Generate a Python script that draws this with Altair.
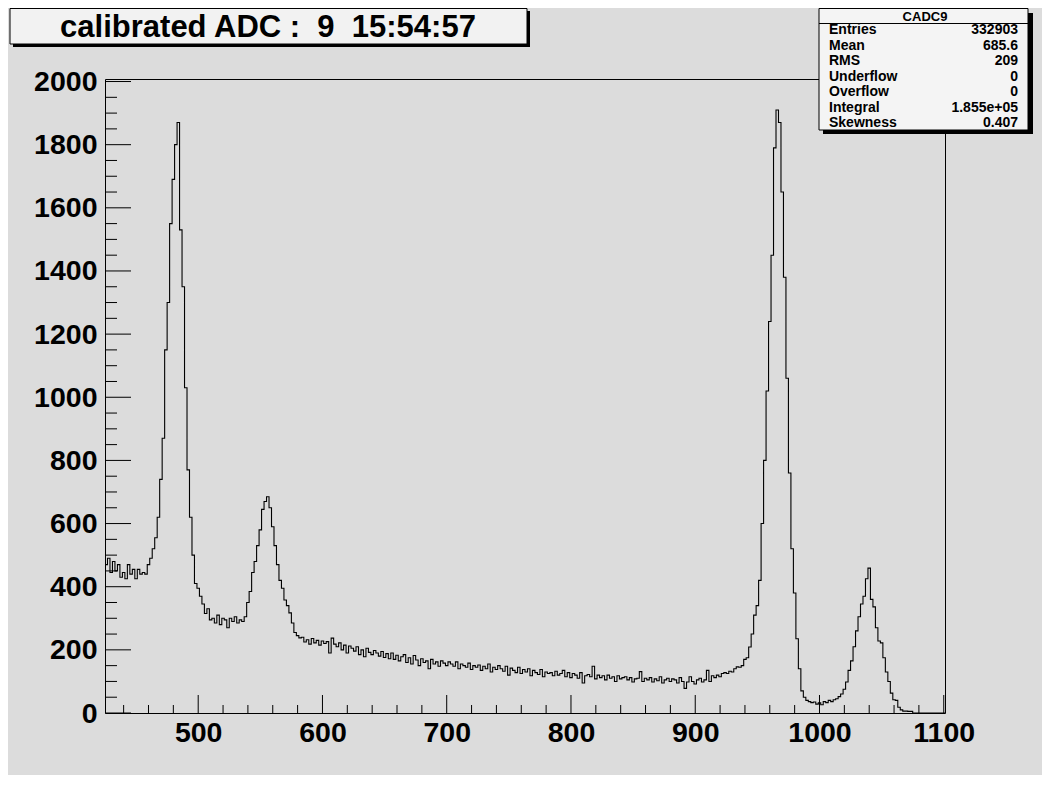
import altair as alt
import pandas as pd

FONT = "Liberation Sans"

# ---------------- data ----------------
bin_start = 425
bin_width = 2
counts = [
    470, 490, 445, 480, 450, 470, 430, 445, 425, 470,
    440, 455, 425, 455, 440, 445, 440, 470, 490, 520,
    555, 620, 740, 870, 1150, 1300, 1550, 1690, 1800, 1870,
    1530, 1350, 1030, 770, 620, 500, 410, 395, 370, 345,
    315, 330, 295, 300, 285, 310, 280, 300, 295, 270,
    300, 290, 305, 285, 295, 290, 305, 350, 385, 445,
    480, 530, 580, 645, 670, 685, 650, 590, 530, 470,
    420, 395, 358, 340, 317, 285, 255, 245, 238,
    240, 225, 232, 218, 236, 222, 230, 215, 228, 220,
    226, 190, 237, 218, 210, 222, 200, 215, 190, 212,
    205, 196, 210, 185, 200, 178, 205, 192, 185, 198,
    190, 180, 195, 176, 188, 172, 190, 170, 183, 165,
    178, 185, 160, 175, 155, 182, 168, 150, 172, 160,
    165, 140, 170, 155, 162, 148, 165, 158, 150, 162,
    155, 148, 162, 140, 155, 150, 145, 158, 138, 150,
    145, 152, 135, 148, 140, 155, 130, 145, 138, 150,
    140, 132, 148, 120, 142, 135, 128, 145, 125, 138,
    130, 140, 118, 135, 128, 122, 138, 115, 130, 125,
    128, 118, 132, 120, 125, 135, 115, 128, 112, 125,
    120, 110, 128, 95, 118, 122, 115, 148, 108, 120,
    112, 118, 105, 120, 110, 115, 100, 118, 108, 112,
    115, 105, 112, 98, 108, 110, 131, 100, 110, 105,
    112, 98, 108, 102, 115, 95, 105, 110, 100, 108,
    105, 95, 112, 100, 78, 98, 115, 100, 92, 105,
    110, 98, 105, 135, 100, 118, 112, 120, 115, 125,
    128, 125, 132, 130, 140, 146, 145, 150, 170, 175,
    209, 250, 310, 340, 420, 600, 800, 1020, 1240, 1450,
    1790, 1910, 1870, 1650, 1380, 1060, 760, 520, 380, 235,
    140, 70, 50, 40, 36, 33, 35, 28, 32, 26,
    36, 33, 40, 36, 42, 45, 52, 60, 75, 98,
    135, 165, 210, 260, 305, 345, 370, 425, 459, 360,
    336, 270, 228, 222, 175, 130, 100, 63, 42, 40,
    18, 10, 6, 6, 5, 5, 0, 0, 0, 0,
    0, 0, 0, 0, 0, 0, 0, 0, 0,
]

x_domain = [425, 1101]
y_domain = [0, 2008]
x_major = [500, 600, 700, 800, 900, 1000, 1100]
x_minor = [v for v in range(440, 1101, 20) if v not in x_major]
y_major = list(range(0, 2001, 200))
y_minor = [v for v in range(0, 2001, 50) if v not in y_major]

title_text = "calibrated ADC :\u00a0\u00a09\u00a0\u00a015:54:57"
stats_name = "CADC9"
stats_labels = ["Entries", "Mean", "RMS", "Underflow", "Overflow", "Integral", "Skewness"]
stats_values = ["332903", "685.6", "209", "0", "0", "1.855e+05", "0.407"]

# ---------------- build ----------------
W, H = 840, 634
edges = [bin_start + bin_width * i for i in range(len(counts) + 1)]
hist_df = pd.DataFrame({"x": edges, "y": counts + [counts[-1]]})

xs = alt.Scale(domain=x_domain, nice=False, zero=False)
ys = alt.Scale(domain=y_domain, nice=False, zero=False)

x_axis = alt.Axis(
    values=x_major, format="d", ticks=False, tickSize=0, domain=False, grid=False,
    labelFont=FONT, labelFontSize=28.5, labelFontWeight="bold", labelColor="black",
    labelPadding=5, labelFlush=False, labelOverlap=False, title=None)
y_axis = alt.Axis(
    values=y_major, format="d", ticks=False, tickSize=0, domain=False, grid=False,
    labelFont=FONT, labelFontSize=28.5, labelFontWeight="bold", labelColor="black",
    labelPadding=8, labelFlush=False, labelOverlap=False, title=None)

hist = alt.Chart(hist_df).mark_line(
    interpolate="step-after", color="black", strokeWidth=1.1
).encode(
    x=alt.X("x:Q", scale=xs, axis=x_axis),
    y=alt.Y("y:Q", scale=ys, axis=y_axis),
)


def xticks(vals, length):
    return alt.Chart(pd.DataFrame({"x": vals})).mark_rule(color="black", strokeWidth=1).encode(
        x=alt.X("x:Q", scale=xs, axis=x_axis),
        y=alt.value(H), y2=alt.value(H - length))


def yticks(vals, length):
    return alt.Chart(pd.DataFrame({"y": vals})).mark_rule(color="black", strokeWidth=1).encode(
        y=alt.Y("y:Q", scale=ys, axis=y_axis),
        x=alt.value(0), x2=alt.value(length))


def rect(x1, x2, y1, y2, fill, stroke=None):
    kw = dict(fill=fill)
    if stroke:
        kw.update(stroke=stroke, strokeWidth=1)
    return alt.Chart(pd.DataFrame({"a": [0]})).mark_rect(**kw).encode(
        x=alt.value(x1), x2=alt.value(x2), y=alt.value(y1), y2=alt.value(y2))


def text(t, x, y, size, align):
    return alt.Chart(pd.DataFrame({"t": [t]})).mark_text(
        font=FONT, fontSize=size, fontWeight="bold", align=align,
        baseline="alphabetic", color="black").encode(
        x=alt.value(x), y=alt.value(y), text="t:N")


layers = [hist,
          xticks(x_major, 18), xticks(x_minor, 8),
          yticks(y_major, 26), yticks(y_minor, 12)]

# title box
layers += [rect(-92, 425, -68, -32, "black"),
           rect(-95, 422, -70.5, -35, "#f2f2f2", "black"),
           text(title_text, 163, -42, 31, "center")]

# stats box
layers += [rect(718, 928, -66, 55, "black"),
           rect(714, 923, -70.5, 51, "#f4f4f4", "black"),
           alt.Chart(pd.DataFrame({"a": [0]})).mark_rule(color="black", strokeWidth=1).encode(
               x=alt.value(714), x2=alt.value(923), y=alt.value(-55.5)),
           text(stats_name, 820, -58, 13, "center")]
for k, (lab, val) in enumerate(zip(stats_labels, stats_values)):
    yy = -45 + k * 15.5
    layers += [text(lab, 724, yy, 14, "left"), text(val, 913, yy, 14, "right")]

chart = alt.layer(*layers).properties(
    width=W, height=H,
    padding={"left": 97, "top": 71, "right": 97, "bottom": 62},
    autosize=alt.AutoSizeParams(type="none"),
    background="#dcdcdc",
).configure_view(stroke="black", strokeWidth=1, fill="#dcdcdc")

chart.save("out.html", embed_options={"renderer": "svg", "actions": False})
